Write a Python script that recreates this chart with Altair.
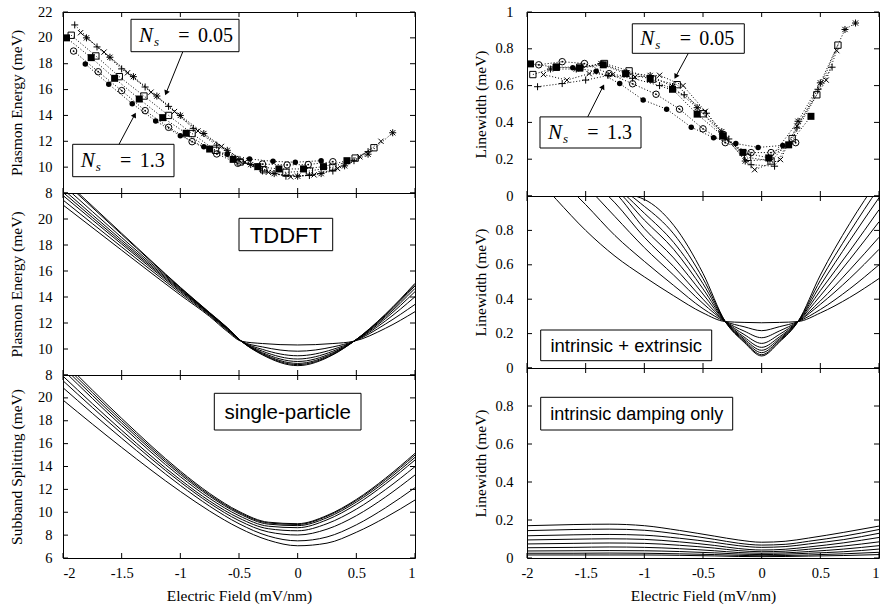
import math
import altair as alt
import pandas as pd

# ---------------- axis ticks / labels ----------------
X_TICKS = [-2, -1.5, -1, -0.5, 0, 0.5, 1]
E_TICKS = [8, 10, 12, 14, 16, 18, 20, 22]
E_LABELS_TOP = [8, 10, 12, 14, 16, 18, 20, 22]
E_LABELS_MID = [8, 10, 12, 14, 16, 18, 20]
S_TICKS = [6, 8, 10, 12, 14, 16, 18, 20, 22]
S_LABELS = [6, 8, 10, 12, 14, 16, 18, 20]
W_TICKS = [0, 0.2, 0.4, 0.6, 0.8, 1.0]
W_LABELS_TOP = [0, 0.2, 0.4, 0.6, 0.8, 1.0]
W_LABELS_LOW = [0, 0.2, 0.4, 0.6, 0.8]

# ---------------- measured plasmon energy (meV) ----------------
PE_PLUS_X = [-1.90, -1.71, -1.50, -1.30, -1.10, -0.89, -0.69, -0.50, -0.30, -0.10, 0.10, 0.30, 0.48, 0.60]
PE_PLUS_Y = [21.0, 19.3, 17.6, 16.2, 14.7, 13.0, 11.7, 10.6, 9.7, 9.3, 9.35, 9.7, 10.5, 11.2]
PE_CROSS_X = [-1.85, -1.65, -1.45, -1.25, -1.05, -0.85, -0.65, -0.45, -0.25, -0.06, 0.14, 0.34, 0.53, 0.71]
PE_CROSS_Y = [20.4, 18.9, 17.3, 15.8, 14.3, 12.8, 11.6, 10.4, 9.6, 9.25, 9.4, 9.9, 10.8, 12.0]
PE_STAR_X = [-1.80, -1.60, -1.40, -1.20, -1.00, -0.80, -0.60, -0.40, -0.20, 0.00, 0.20, 0.40, 0.60, 0.81]
PE_STAR_Y = [20.0, 18.5, 17.0, 15.5, 14.0, 12.6, 11.3, 10.2, 9.5, 9.3, 9.5, 10.1, 11.0, 12.66]
PE_SQO_X = [-1.93, -1.72, -1.52, -1.31, -1.10, -0.90, -0.70, -0.49, -0.29, -0.10, 0.10, 0.30, 0.49, 0.65]
PE_SQO_Y = [20.2, 18.6, 17.0, 15.5, 14.0, 12.6, 11.3, 10.4, 9.8, 9.6, 9.7, 10.0, 10.7, 11.5]
PE_SQF_X = [-1.97, -1.76, -1.56, -1.35, -1.15, -0.95, -0.75, -0.55, -0.34, -0.16, 0.05, 0.22, 0.42]
PE_SQF_Y = [20.0, 18.47, 16.87, 15.27, 13.83, 12.62, 11.4, 10.6, 10.04, 9.86, 9.86, 10.04, 10.5]
PE_CDOT_X = [-1.91, -1.70, -1.50, -1.30, -1.10, -0.90, -0.69, -0.51, -0.30, -0.09, 0.09, 0.30]
PE_CDOT_Y = [18.98, 17.38, 15.92, 14.37, 13.08, 11.97, 11.02, 10.30, 10.24, 10.17, 10.2, 10.42]
PE_DOT_X = [-1.81, -1.61, -1.41, -1.21, -1.00, -0.80, -0.60, -0.41, -0.21, -0.02, 0.20]
PE_DOT_Y = [17.98, 16.41, 14.91, 13.57, 12.43, 11.58, 11.0, 10.63, 10.45, 10.38, 10.5]

# ---------------- measured linewidth (meV) ----------------
LW_PLUS_X = [-1.91, -1.70, -1.50, -1.31, -1.10, -0.87, -0.66, -0.47, -0.28, -0.09, 0.11, 0.30, 0.48, 0.60]
LW_PLUS_Y = [0.594, 0.611, 0.63, 0.655, 0.64, 0.60, 0.55, 0.45, 0.31, 0.17, 0.162, 0.37, 0.58, 0.70]
LW_CROSS_X = [-1.86, -1.66, -1.47, -1.27, -1.08, -0.87, -0.67, -0.48, -0.30, -0.06, 0.16, 0.30, 0.55, 0.64]
LW_CROSS_Y = [0.66, 0.63, 0.665, 0.66, 0.647, 0.656, 0.60, 0.46, 0.31, 0.143, 0.198, 0.38, 0.63, 0.79]
LW_STAR_X = [-1.80, -1.58, -1.37, -1.15, -0.95, -0.76, -0.55, -0.34, -0.14, 0.07, 0.31, 0.50, 0.71, 0.80]
LW_STAR_Y = [0.69, 0.69, 0.72, 0.67, 0.655, 0.595, 0.48, 0.35, 0.19, 0.20, 0.406, 0.615, 0.905, 0.94]
LW_SQO_X = [-1.95, -1.75, -1.55, -1.34, -1.13, -0.93, -0.72, -0.50, -0.33, -0.12, 0.08, 0.26, 0.47, 0.65]
LW_SQO_Y = [0.66, 0.70, 0.70, 0.72, 0.68, 0.635, 0.605, 0.447, 0.33, 0.21, 0.19, 0.312, 0.55, 0.82]
LW_SQF_X = [-1.97, -1.75, -1.55, -1.35, -1.16, -0.95, -0.76, -0.55, -0.33, -0.16, 0.06, 0.23, 0.42]
LW_SQF_Y = [0.718, 0.70, 0.695, 0.713, 0.665, 0.638, 0.58, 0.445, 0.326, 0.237, 0.207, 0.278, 0.433]
LW_CDOT_X = [-1.90, -1.70, -1.51, -1.30, -1.10, -0.90, -0.70, -0.50, -0.31, -0.09, 0.08, 0.29]
LW_CDOT_Y = [0.713, 0.73, 0.72, 0.665, 0.61, 0.553, 0.472, 0.365, 0.29, 0.236, 0.236, 0.29]
LW_DOT_X = [-1.61, -1.41, -1.21, -1.01, -0.81, -0.60, -0.41, -0.22, -0.03, 0.18]
LW_DOT_Y = [0.697, 0.678, 0.611, 0.522, 0.472, 0.374, 0.317, 0.285, 0.264, 0.275]

# ---------------- TDDFT plasmon energy curves ----------------
TD_X = [-2, -1.5, -1, -0.75, -0.6, -0.48, -0.3, 0, 0.3, 0.48, 0.75, 1]
TD_Y = [
    [21.08, 17.60, 14.15, 12.50, 11.35, 10.60, 10.42, 10.31, 10.42, 10.60, 11.60, 12.87],
    [21.46, 17.85, 14.30, 12.58, 11.43, 10.60, 10.16, 9.83, 10.16, 10.60, 11.93, 13.43],
    [21.81, 18.07, 14.42, 12.64, 11.49, 10.60, 9.97, 9.48, 9.97, 10.60, 12.17, 14.02],
    [22.05, 18.22, 14.51, 12.70, 11.55, 10.60, 9.83, 9.23, 9.83, 10.60, 12.35, 14.41],
    [22.29, 18.38, 14.58, 12.72, 11.57, 10.60, 9.72, 9.04, 9.72, 10.60, 12.48, 14.66],
    [22.60, 18.58, 14.65, 12.75, 11.60, 10.60, 9.65, 8.89, 9.65, 10.60, 12.58, 14.85],
    [22.96, 18.81, 14.71, 12.78, 11.63, 10.60, 9.59, 8.80, 9.59, 10.60, 12.65, 14.97],
    [23.10, 18.90, 14.75, 12.80, 11.65, 10.60, 9.55, 8.72, 9.55, 10.60, 12.70, 15.05],
]

# ---------------- single-particle subband splitting ----------------
SP_X = [-2, -1.5, -1, -0.75, -0.5, -0.25, 0, 0.25, 0.5, 0.75, 1]
SP_Y = [
    [19.81, 15.67, 11.82, 10.10, 8.63, 7.56, 7.07, 7.30, 8.25, 9.55, 11.07],
    [20.89, 16.47, 12.35, 10.53, 9.00, 7.92, 7.50, 7.84, 8.90, 10.40, 12.15],
    [21.50, 16.89, 12.64, 10.79, 9.27, 8.28, 8.01, 8.52, 9.70, 11.34, 13.26],
    [21.90, 17.17, 12.84, 10.98, 9.49, 8.56, 8.38, 9.00, 10.27, 11.99, 13.99],
    [22.44, 17.56, 13.11, 11.21, 9.70, 8.78, 8.65, 9.34, 10.69, 12.49, 14.57],
    [22.73, 17.80, 13.31, 11.40, 9.88, 8.96, 8.83, 9.52, 10.89, 12.70, 14.80],
    [23.00, 18.01, 13.46, 11.52, 9.98, 9.06, 8.93, 9.65, 11.03, 12.87, 15.00],
    [23.25, 18.21, 13.60, 11.64, 10.07, 9.13, 9.00, 9.72, 11.12, 12.99, 15.15],
]

# ---------------- intrinsic + extrinsic linewidth ----------------
IE_X = [-2, -1.75, -1.5, -1.25, -1, -0.75, -0.5, -0.31, -0.15, 0, 0.15, 0.31, 0.5, 0.75, 1]
IE_Y = [
    [1.17, 0.98, 0.80, 0.65, 0.53, 0.42, 0.32, 0.27, 0.265, 0.263, 0.265, 0.27, 0.32, 0.41, 0.52],
    [1.30, 1.12, 0.95, 0.77, 0.62, 0.48, 0.345, 0.27, 0.24, 0.217, 0.24, 0.27, 0.34, 0.46, 0.60],
    [1.36, 1.22, 1.06, 0.88, 0.70, 0.54, 0.375, 0.27, 0.215, 0.176, 0.215, 0.27, 0.37, 0.52, 0.69],
    [1.36, 1.25, 1.12, 0.96, 0.76, 0.59, 0.40, 0.27, 0.195, 0.143, 0.195, 0.27, 0.39, 0.57, 0.76],
    [1.30, 1.22, 1.14, 1.02, 0.81, 0.64, 0.43, 0.27, 0.18, 0.120, 0.18, 0.27, 0.42, 0.63, 0.85],
    [1.24, 1.18, 1.12, 1.04, 0.86, 0.69, 0.46, 0.27, 0.17, 0.103, 0.17, 0.27, 0.45, 0.68, 0.92],
    [1.18, 1.14, 1.10, 1.05, 0.90, 0.73, 0.49, 0.27, 0.162, 0.089, 0.162, 0.27, 0.48, 0.74, 0.99],
    [1.12, 1.09, 1.07, 1.05, 0.94, 0.78, 0.52, 0.27, 0.155, 0.077, 0.155, 0.27, 0.51, 0.79, 1.05],
    [1.05, 1.04, 1.03, 1.02, 0.98, 0.83, 0.55, 0.27, 0.15, 0.070, 0.15, 0.27, 0.54, 0.84, 1.10],
]

# ---------------- intrinsic damping only ----------------
IN_X = [-2, -1.6, -1.3, -1, -0.7, -0.4, -0.2, 0, 0.2, 0.4, 0.7, 1]
IN_Y = [
    [0.016, 0.016, 0.016, 0.016, 0.014, 0.011, 0.008, 0.007, 0.008, 0.010, 0.013, 0.018],
    [0.025, 0.025, 0.026, 0.025, 0.022, 0.018, 0.014, 0.012, 0.013, 0.016, 0.022, 0.030],
    [0.037, 0.038, 0.039, 0.038, 0.034, 0.027, 0.021, 0.018, 0.020, 0.025, 0.033, 0.047],
    [0.054, 0.056, 0.058, 0.056, 0.049, 0.038, 0.029, 0.025, 0.027, 0.034, 0.047, 0.065],
    [0.074, 0.077, 0.079, 0.077, 0.067, 0.052, 0.039, 0.033, 0.036, 0.046, 0.063, 0.085],
    [0.095, 0.099, 0.101, 0.098, 0.085, 0.066, 0.050, 0.042, 0.046, 0.058, 0.080, 0.108],
    [0.117, 0.122, 0.124, 0.120, 0.104, 0.082, 0.065, 0.056, 0.060, 0.074, 0.097, 0.130],
    [0.144, 0.150, 0.152, 0.146, 0.125, 0.098, 0.078, 0.068, 0.072, 0.088, 0.115, 0.150],
    [0.170, 0.176, 0.178, 0.170, 0.145, 0.115, 0.095, 0.083, 0.088, 0.105, 0.135, 0.168],
]

# ---------------- styling ----------------
SERIF = "Liberation Serif"
SANS = "Liberation Sans"
LABEL_SIZE = 14.5
TITLE_SIZE = 15.5
TICK_LEN = 5
ONE = pd.DataFrame({"o": [0]})
HYPHEN = "replace(datum.label, '\u2212', '-')"

PLUS = "M-1,0L1,0M0,-1L0,1"
CROSS = "M-0.75,-0.75L0.75,0.75M-0.75,0.75L0.75,-0.75"
STAR = PLUS + CROSS


class Ax:
    """x / y encodings of one panel, with identical axes in every layer."""

    def __init__(self, dom, xaxis, yaxis):
        self.dom, self.xaxis, self.yaxis = dom, xaxis, yaxis

    def X(self):
        return alt.X("x:Q", scale=alt.Scale(domain=[-2, 1], nice=False, zero=False),
                     axis=self.xaxis)

    def Y(self):
        return alt.Y("y:Q", scale=alt.Scale(domain=self.dom, nice=False, zero=False),
                     axis=self.yaxis)


def curves_df(xv, ys):
    rows = []
    for k, yv in enumerate(ys):
        for x, y in zip(xv, yv):
            rows.append({"x": x, "y": y, "k": k})
    return pd.DataFrame(rows)


def curve_layers(ax, xv, ys):
    return [alt.Chart(curves_df(xv, ys)).mark_line(
        color="black", strokeWidth=1, clip=True, interpolate="monotone"
    ).encode(x=ax.X(), y=ax.Y(), detail="k:N")]


STYLE = {
    "plus": dict(shape=PLUS, filled=False, size=49),
    "cross": dict(shape=CROSS, filled=False, size=49),
    "star": dict(shape=STAR, filled=False, size=49),
    "sqo": dict(shape="square", filled=False, size=40),
    "sqf": dict(shape="square", filled=True, size=49),
    "cdot": dict(shape="circle", filled=False, size=42),
    "dot": dict(shape="circle", filled=True, size=30),
}


def exp_layers(ax, series):
    rows = []
    for name, xv, yv in series:
        for x, y in zip(xv, yv):
            rows.append({"x": x, "y": y, "s": name})
    df = pd.DataFrame(rows)
    layers = [alt.Chart(df).mark_line(color="black", strokeWidth=1, strokeDash=[1, 2]).encode(
        x=ax.X(), y=ax.Y(), detail="s:N")]
    for name, _, _ in series:
        sub = df[df["s"] == name]
        layers.append(alt.Chart(sub).mark_point(
            color="black", strokeWidth=1, opacity=1, **STYLE[name]).encode(x=ax.X(), y=ax.Y()))
        if name == "cdot":
            layers.append(alt.Chart(sub).mark_point(
                color="black", shape="circle", filled=True, size=3, opacity=1).encode(
                x=ax.X(), y=ax.Y()))
    return layers


def tick_layers(ax, W, H, yticks):
    xt = pd.DataFrame({"x": X_TICKS})
    yt = pd.DataFrame({"y": yticks})
    rule = dict(color="black", strokeWidth=1)
    return [
        alt.Chart(xt).mark_rule(**rule).encode(x=ax.X(), y=alt.value(H), y2=alt.value(H - TICK_LEN)),
        alt.Chart(xt).mark_rule(**rule).encode(x=ax.X(), y=alt.value(0), y2=alt.value(TICK_LEN)),
        alt.Chart(yt).mark_rule(**rule).encode(y=ax.Y(), x=alt.value(0), x2=alt.value(TICK_LEN)),
        alt.Chart(yt).mark_rule(**rule).encode(y=ax.Y(), x=alt.value(W), x2=alt.value(W - TICK_LEN)),
    ]


def box(x1, x2, y1, y2):
    return alt.Chart(ONE).mark_rect(fill="white", stroke="black", strokeWidth=1).encode(
        x=alt.value(x1), x2=alt.value(x2), y=alt.value(y1), y2=alt.value(y2))


def text(t, x, y, font, size, style="normal", align="left", baseline="alphabetic"):
    return alt.Chart(ONE).mark_text(
        text=t, font=font, fontSize=size, fontStyle=style, align=align,
        baseline=baseline, color="black").encode(x=alt.value(x), y=alt.value(y))


def arrow(x1, y1, x2, y2):
    dx, dy = x2 - x1, y2 - y1
    L = math.hypot(dx, dy)
    ux, uy = dx / L, dy / L
    ang = math.degrees(math.atan2(dx, -dy)) % 360
    return [
        alt.Chart(ONE).mark_rule(color="black", strokeWidth=1).encode(
            x=alt.value(x1), y=alt.value(y1), x2=alt.value(x2 - 4 * ux), y2=alt.value(y2 - 4 * uy)),
        alt.Chart(ONE).mark_point(shape="triangle-up", filled=True, size=34, angle=ang,
                                  color="black", opacity=1).encode(
            x=alt.value(x2 - 3 * ux), y=alt.value(y2 - 3 * uy)),
    ]


def ns_box(x1, x2, y1, y2, value):
    base = (y1 + y2) / 2 + 6.5
    return [
        box(x1, x2, y1, y2),
        text("N", x1 + 8, base, SERIF, 21, "italic"),
        text("s", x1 + 23, base + 4, SERIF, 13, "italic"),
        text("=", x1 + 53, base, SERIF, 20, align="center"),
        text(value, x1 + 67, base, SERIF, 20),
    ]


def sans_box(x1, x2, y1, y2, t, size):
    return [
        box(x1, x2, y1, y2),
        text(t, (x1 + x2) / 2, (y1 + y2) / 2 + 1, SANS, size, align="center", baseline="middle"),
    ]


def yaxis(labels, title, lab_pad, title_pad):
    return alt.Axis(values=labels, title=title, format="~g", labelExpr=HYPHEN,
                    ticks=False, tickSize=0, domain=False, grid=False,
                    labelPadding=lab_pad, titlePadding=title_pad)


def xaxis(right_flush=False):
    kw = {}
    if right_flush:
        kw["labelAlign"] = {"condition": {"test": "datum.value == 1", "value": "right"},
                            "value": "center"}
    return alt.Axis(values=X_TICKS, title="Electric Field (mV/nm)", format="~g",
                    labelExpr=HYPHEN, ticks=False, tickSize=0, domain=False, grid=False,
                    labelPadding=8, titlePadding=9, **kw)


def panel(ax, data_layers, annot, W, H, yticks):
    layers = data_layers + tick_layers(ax, W, H, yticks) + annot
    return alt.layer(*layers).properties(width=W, height=H)


W = 352
LH = [181, 182, 183]
RH = [184, 172, 190]
L_LAB, L_TIT = 11, 13
R_LAB, R_TIT = 14, 6

# ---- left column ----
pe_series = [("plus", PE_PLUS_X, PE_PLUS_Y), ("cross", PE_CROSS_X, PE_CROSS_Y),
             ("star", PE_STAR_X, PE_STAR_Y), ("sqo", PE_SQO_X, PE_SQO_Y),
             ("sqf", PE_SQF_X, PE_SQF_Y), ("cdot", PE_CDOT_X, PE_CDOT_Y),
             ("dot", PE_DOT_X, PE_DOT_Y)]
ax1 = Ax([8, 22], None, yaxis(E_LABELS_TOP, "Plasmon Energy (meV)", L_LAB, L_TIT))
L1 = panel(ax1, exp_layers(ax1, pe_series),
           ns_box(68, 176, 7.3, 39.7, "0.05") + arrow(119.7, 40, 102, 83.7)
           + ns_box(9.7, 111, 132.3, 164.7, "1.3") + arrow(56, 132.3, 73, 100.3),
           W, LH[0], E_TICKS)
ax2 = Ax([8, 22], None, yaxis(E_LABELS_MID, "Plasmon Energy (meV)", L_LAB, L_TIT))
L2 = panel(ax2, curve_layers(ax2, TD_X, TD_Y),
           sans_box(176, 269.7, 25.3, 57.7, "TDDFT", 22),
           W, LH[1], E_TICKS)
ax3 = Ax([6, 22], xaxis(), yaxis(S_LABELS, "Subband Splitting (meV)", L_LAB, L_TIT))
L3 = panel(ax3, curve_layers(ax3, SP_X, SP_Y),
           sans_box(151.3, 298, 18.3, 55, "single-particle", 20.5),
           W, LH[2], S_TICKS)
left = alt.vconcat(L1, L2, L3, spacing=0, bounds="flush")

# ---- right column ----
lw_series = [("plus", LW_PLUS_X, LW_PLUS_Y), ("cross", LW_CROSS_X, LW_CROSS_Y),
             ("star", LW_STAR_X, LW_STAR_Y), ("sqo", LW_SQO_X, LW_SQO_Y),
             ("sqf", LW_SQF_X, LW_SQF_Y), ("cdot", LW_CDOT_X, LW_CDOT_Y),
             ("dot", LW_DOT_X, LW_DOT_Y)]
bx1 = Ax([0, 1], None, yaxis(W_LABELS_TOP, "Linewidth (meV)", R_LAB, R_TIT))
R1 = panel(bx1, exp_layers(bx1, lw_series),
           ns_box(105.3, 217.3, 11.8, 41.3, "0.05") + arrow(161.3, 41.3, 147.3, 67.2)
           + ns_box(13, 114, 104.9, 136, "1.3") + arrow(60.7, 104.9, 77.3, 72),
           W, RH[0], W_TICKS)
bx2 = Ax([0, 1], None, yaxis(W_LABELS_LOW, "Linewidth (meV)", R_LAB, R_TIT))
R2 = panel(bx2, curve_layers(bx2, IE_X, IE_Y),
           sans_box(13.7, 184.7, 134, 164.7, "intrinsic + extrinsic", 18.5),
           W, RH[1], W_TICKS)
bx3 = Ax([0, 1], xaxis(right_flush=True), yaxis(W_LABELS_LOW, "Linewidth (meV)", R_LAB, R_TIT))
R3 = panel(bx3, curve_layers(bx3, IN_X, IN_Y),
           sans_box(13.7, 205.7, 29.3, 62, "intrinsic damping only", 18),
           W, RH[2], W_TICKS)
right = alt.vconcat(R1, R2, R3, spacing=0, bounds="flush")

chart = alt.hconcat(left, right, spacing=57).properties(
    padding={"left": 9, "right": 1, "top": 3, "bottom": 0},
    background="white",
).configure_view(
    stroke="black", strokeWidth=1
).configure_axis(
    labelFont=SERIF, labelFontSize=LABEL_SIZE, labelColor="black",
    titleFont=SERIF, titleFontSize=TITLE_SIZE, titleFontWeight="normal", titleColor="black",
)

chart.save("out.html", embed_options={"renderer": "svg", "actions": False})
